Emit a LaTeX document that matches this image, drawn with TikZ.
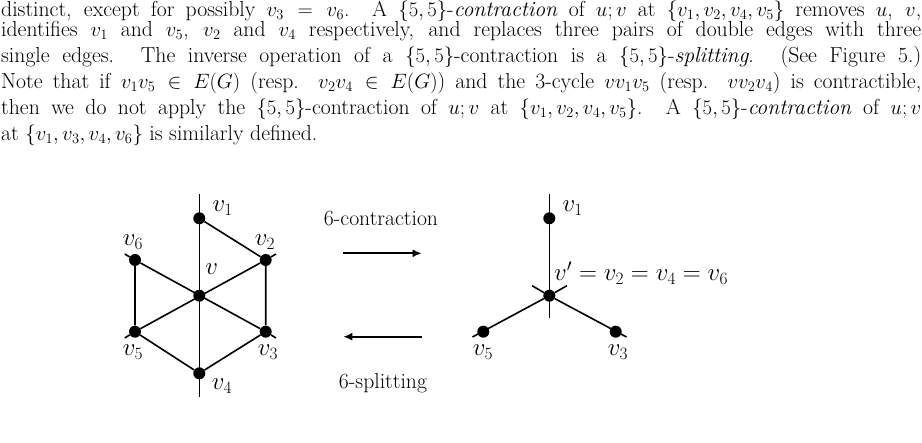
\documentclass[tikz,border=0pt]{standalone}
\usetikzlibrary{arrows.meta}
\begin{document}
\begin{tikzpicture}[x=1pt,y=-1pt,
  dot/.style={circle,fill=black,inner sep=0pt,minimum size=12pt},
  edge/.style={line width=1.6pt},
  lab/.style={inner sep=0pt,font=\fontsize{27}{30}\selectfont},
  captxt/.style={inner sep=0pt,font=\fontsize{21.7}{26}\selectfont},
  arr/.style={line width=2.2pt,-{Latex[length=9pt,width=8pt]}}]
\useasboundingbox (0,0) rectangle (922,443);
\node[anchor=north west,inner sep=0pt,text width=920pt,align=justify,font=\fontsize{21.7}{26}\selectfont] (para) at (1,1)
{\vspace*{-6pt}distinct, except for possibly $v_3=v_6$. A $\{5,5\}$-\emph{contraction} of $u;v$ at $\{v_1,v_2,v_4,v_5\}$ removes $u$, $v$,\linebreak
identifies $v_1$ and $v_5$, $v_2$ and $v_4$ respectively, and replaces three pairs of double edges with three\linebreak
single edges. The inverse operation of a $\{5,5\}$-contraction is a $\{5,5\}$-\emph{splitting}. (See Figure 5.)\linebreak
Note that if $v_1v_5\in E(G)$ (resp. $v_2v_4\in E(G)$) and the 3-cycle $vv_1v_5$ (resp. $vv_2v_4$) is contractible,\linebreak
then we do not apply the $\{5,5\}$-contraction of $u;v$ at $\{v_1,v_2,v_4,v_5\}$. A $\{5,5\}$-\emph{contraction} of $u;v$\linebreak
at $\{v_1,v_3,v_4,v_6\}$ is similarly defined.};
% left graph
\node[dot] (v) at (199.3,295.7) {};
\node[dot] (a1) at (199.3,218.3) {};
\node[dot] (a2) at (265.7,260) {};
\node[dot] (a3) at (265.7,331.7) {};
\node[dot] (a4) at (199.3,373.3) {};
\node[dot] (a5) at (135,331.7) {};
\node[dot] (a6) at (135,260) {};
\coordinate (t1) at (199.3,194);
\coordinate (t4) at (199.3,397);
\coordinate (t2) at (276,254);
\coordinate (t3) at (276,338);
\coordinate (t5) at (124.7,338);
\coordinate (t6) at (124.7,254);
\draw[edge] (t1)--(t4);
\draw[edge] (a6)--(a3) (a2)--(a5);
\draw[edge] (a6)--(t6) (a2)--(t2) (a3)--(t3) (a5)--(t5);
\draw[edge] (a1)--(a2)--(a3)--(a4)--(a5)--(a6)--cycle;
\node[lab] (l1) at (222.7,208) {$v_1$};
\node[lab] (l6) at (133,242) {$v_6$};
\node[lab] (l2) at (265,242) {$v_2$};
\node[lab] (lv) at (211.7,269) {$v$};
\node[lab] (l5) at (133,352) {$v_5$};
\node[lab] (l3) at (268,352) {$v_3$};
\node[lab] (l4) at (222,386) {$v_4$};
% arrows
\coordinate (r0) at (343.3,253.3); \coordinate (r1) at (421.7,253.3);
\coordinate (s0) at (421.7,336.7); \coordinate (s1) at (343.3,336.7);
\draw[arr] (r0)--(r1);
\draw[arr] (s0)--(s1);
\node[captxt] (c1) at (381,219) {6-contraction};
\node[captxt] (c2) at (383,383) {6-splitting};
% right graph
\node[dot] (w) at (549.3,295.7) {};
\node[dot] (b1) at (549.3,218.3) {};
\node[dot] (b5) at (483.3,331.7) {};
\node[dot] (b3) at (615.7,331.7) {};
\coordinate (u1) at (549.3,194);
\coordinate (u0) at (549.3,318.5);
\coordinate (x5) at (532,285.7);
\coordinate (x3) at (567,285.7);
\coordinate (y5) at (472.5,337);
\coordinate (y3) at (626.5,337);
\draw[edge] (u1)--(u0);
\draw[edge] (y5)--(w)--(x3);
\draw[edge] (y3)--(w)--(x5);
\node[lab] (m1) at (572.7,208) {$v_1$};
\node[lab,anchor=west] (m0) at (554,273) {$v'=v_2=v_4=v_6$};
\node[lab] (m5) at (483,352) {$v_5$};
\node[lab] (m3) at (618,352) {$v_3$};
\end{tikzpicture}
\end{document}
